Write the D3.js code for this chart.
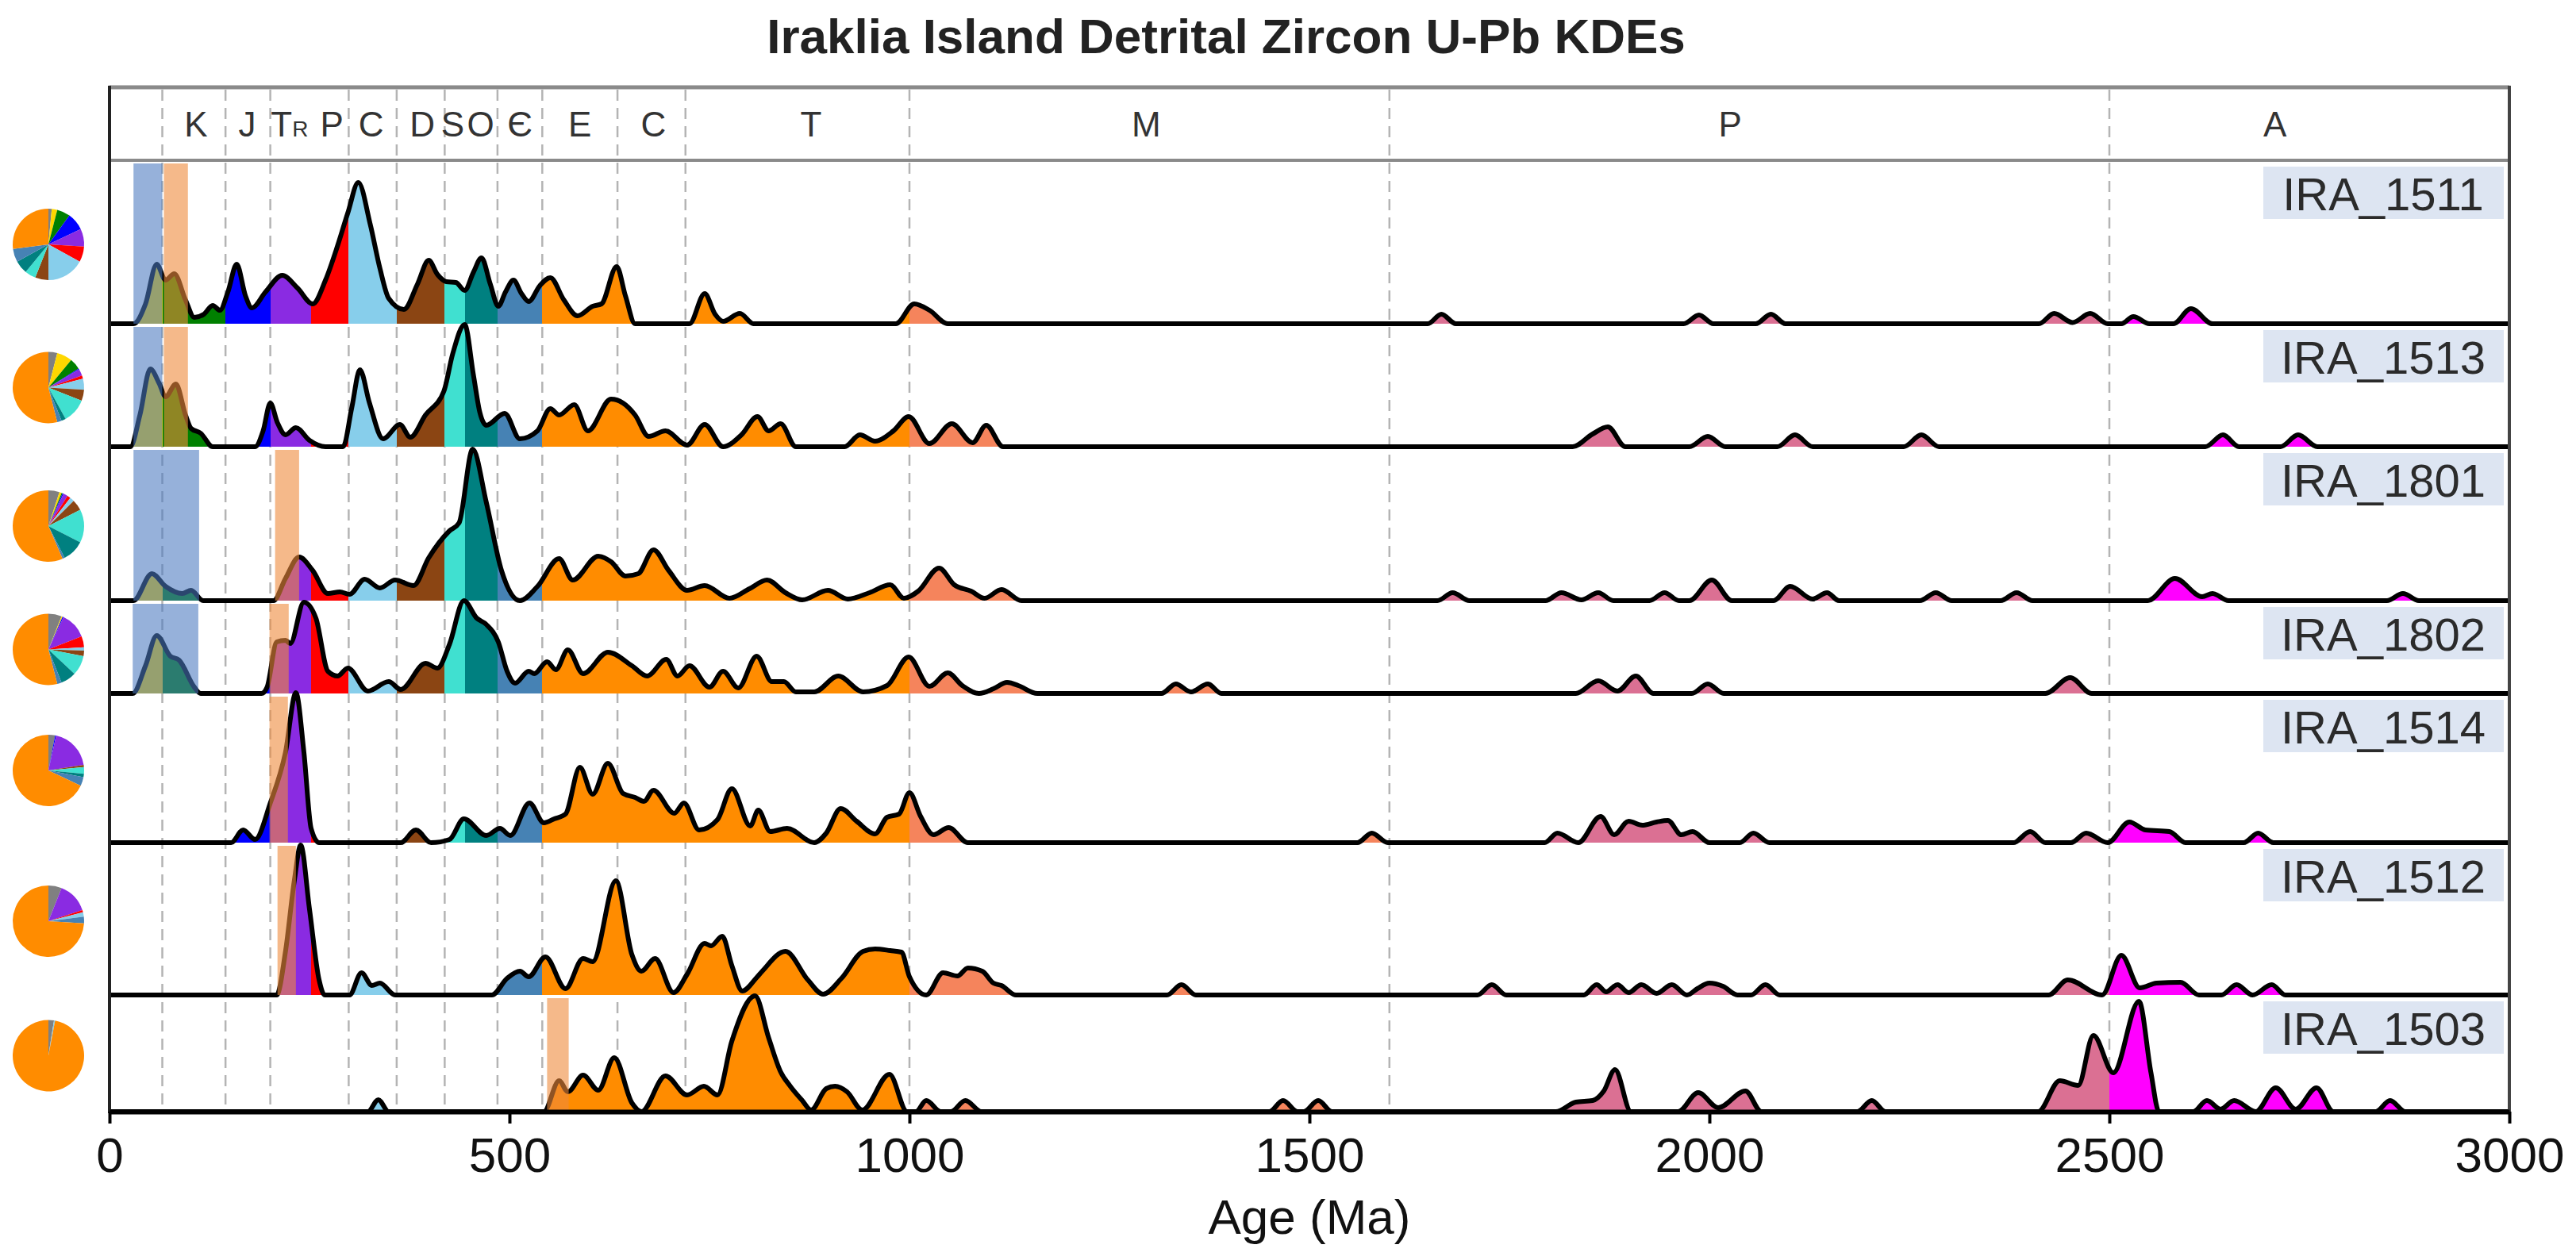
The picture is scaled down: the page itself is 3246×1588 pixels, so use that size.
<!DOCTYPE html>
<html><head><meta charset="utf-8">
<script src="https://cdn.jsdelivr.net/npm/d3@7"></script>
<style>
body{margin:0;background:#fff}
svg{display:block}
text{font-family:"Liberation Sans",Arial,Helvetica,sans-serif}
</style>
</head><body>
<svg id="chart" width="3246" height="1588"></svg>
<script>
// ---------------- DATA ----------------
const samples = ["IRA_1511","IRA_1513","IRA_1801","IRA_1802","IRA_1514","IRA_1512","IRA_1503"];

// KDE curves: [age (Ma), relative density]
const kde_IRA_1511 = [[0,0],[30,0],[45,25],[59,75],[70,55],[81,63],[95,30],[106,8],[118,12],[129,23],[138,17],[148,40],[159,75],[170,35],[178,20],[195,40],[216,61],[235,45],[254,25],[270,55],[285,98],[298,140],[311,178],[326,125],[338,70],[349,32],[368,18],[385,50],[399,80],[410,62],[421,53],[433,52],[444,42],[455,65],[465,83],[476,50],[486,22],[495,40],[505,55],[515,38],[524,28],[538,48],[551,58],[568,30],[585,10],[604,22],[615,25],[634,72],[645,35],[657,0],[725,0],[744,38],[757,12],[767,3],[788,13],[805,0],[983,0],[1006,25],[1025,17],[1048,0],[1648,0],[1665,12],[1683,0],[1968,0],[1987,11],[2005,0],[2058,0],[2077,12],[2095,0],[2412,0],[2431,13],[2454,1.5],[2476,13],[2498,0],[2515,0],[2530,9],[2550,0],[2580,0],[2602,19],[2629,0],[3000,0]];
const kde_IRA_1513 = [[0,0],[26,0],[38,40],[51,98],[62,80],[70,63],[83,79],[95,40],[102,23],[114,17],[129,0],[182,0],[192,20],[201,55],[210,30],[220,15],[233,24],[250,8],[270,0],[292,0],[303,50],[313,97],[325,55],[342,10],[363,28],[376,12],[395,40],[418,70],[429,117],[444,154],[455,90],[463,43],[471,27],[494,42],[513,10],[535,20],[551,48],[562,40],[581,53],[598,20],[627,60],[642,55],[657,40],[674,13],[695,20],[722,2],[744,28],[767,0],[790,15],[810,38],[824,20],[839,29],[858,0],[919,0],[938,15],[957,7],[980,20],[999,38],[1025,4],[1053,29],[1079,5],[1096,27],[1117,0],[1829,0],[1854,16],[1873,25],[1895,0],[1975,0],[1998,13],[2020,0],[2085,0],[2107,15],[2129,0],[2243,0],[2265,15],[2287,0],[2620,0],[2642,15],[2662,0],[2714,0],[2736,15],[2760,0],[3000,0]];
const kde_IRA_1801 = [[0,0],[30,0],[53,34],[70,18],[91,9],[102,13],[117,0],[205,0],[220,28],[237,55],[254,38],[273,9],[288,11],[300,8],[319,27],[338,16],[357,26],[380,19],[399,54],[425,88],[437,98],[454,191],[471,124],[490,38],[513,0],[535,18],[562,53],[579,26],[611,56],[627,49],[645,31],[661,34],[680,64],[699,38],[722,13],[744,19],[775,3],[800,15],[822,26],[845,10],[866,1],[898,13],[923,2],[950,10],[976,20],[993,3],[1011,12],[1037,41],[1056,20],[1077,12],[1094,3],[1115,14],[1140,0],[1660,0],[1679,10],[1700,0],[1795,0],[1815,10],[1840,1],[1861,10],[1880,0],[1925,0],[1944,10],[1962,0],[1975,0],[2003,26],[2028,0],[2080,0],[2101,18],[2129,2],[2147,10],[2162,0],[2263,0],[2283,10],[2303,0],[2364,0],[2384,10],[2404,0],[2548,0],[2582,28],[2616,5],[2629,9],[2649,0],[2847,0],[2867,9],[2887,0],[3000,0]];
const kde_IRA_1802 = [[0,0],[29,0],[45,35],[59,73],[76,47],[87,42],[106,8],[114,0],[190,0],[197,8],[209,65],[220,67],[226,63],[243,115],[258,95],[273,28],[285,22],[298,32],[323,3],[349,15],[364,5],[395,38],[410,32],[425,62],[443,117],[459,95],[471,87],[486,65],[497,28],[507,13],[524,28],[531,25],[547,40],[558,30],[573,55],[592,25],[623,52],[653,35],[672,22],[696,43],[710,22],[725,35],[750,8],[767,28],[786,7],[809,47],[828,15],[843,15],[858,2],[881,2],[911,22],[942,2],[972,10],[999,46],[1025,9],[1048,26],[1066,10],[1087,0],[1105,6],[1122,14],[1136,10],[1160,0],[1315,0],[1333,12],[1352,2],[1373,12],[1390,0],[1833,0],[1861,16],[1885,3],[1908,22],[1930,0],[1978,0],[1998,12],[2018,0],[2420,0],[2451,20],[2478,0],[3000,0]];
const kde_IRA_1514 = [[0,0],[152,0],[167,16],[182,4],[201,50],[220,114],[233,189],[243,114],[252,18],[262,0],[364,0],[383,16],[402,0],[425,4],[443,30],[471,9],[488,18],[501,9],[525,50],[543,25],[556,30],[570,36],[588,95],[604,61],[623,100],[642,62],[657,57],[668,52],[680,66],[706,37],[718,50],[737,16],[760,29],[778,68],[801,21],[811,41],[826,14],[847,18],[881,0],[896,12],[914,43],[934,27],[957,11],[972,32],[987,36],[1000,63],[1014,33],[1030,10],[1049,19],[1073,0],[1560,0],[1578,12],[1598,0],[1794,0],[1810,12],[1836,0],[1864,33],[1881,10],[1899,27],[1916,22],[1934,26],[1948,28],[1965,10],[1979,14],[2000,0],[2038,0],[2055,12],[2075,0],[2380,0],[2401,14],[2420,0],[2452,0],[2471,12],[2498,0],[2525,26],[2545,16],[2575,14],[2595,0],[2668,0],[2686,12],[2705,0],[3000,0]];
const kde_IRA_1512 = [[0,0],[209,0],[220,55],[231,144],[239,189],[250,108],[262,19],[269,0],[300,0],[315,28],[328,12],[338,15],[357,0],[478,0],[497,21],[513,30],[524,23],[545,48],[570,8],[592,46],[604,42],[633,144],[653,51],[665,30],[682,46],[705,3],[722,26],[744,65],[752,62],[766,74],[778,37],[791,5],[809,22],[816,30],[845,55],[873,19],[892,1],[915,21],[942,55],[957,58],[976,56],[990,54],[1000,23],[1021,0],[1042,28],[1060,24],[1073,34],[1091,30],[1105,15],[1115,12],[1133,0],[1322,0],[1340,13],[1358,0],[1710,0],[1728,13],[1746,0],[1843,0],[1859,13],[1871,4],[1885,13],[1899,3],[1915,13],[1934,2],[1953,13],[1972,0],[1985,8],[2000,15],[2017,11],[2035,0],[2052,0],[2070,13],[2088,0],[2424,0],[2448,19],[2491,0],[2515,50],[2538,9],[2559,15],[2589,16],[2612,0],[2640,0],[2659,13],[2679,0],[2703,13],[2720,0],[3000,0]];
const kde_IRA_1503 = [[0,0],[323,0],[336,15],[349,0],[543,0],[562,39],[573,25],[592,46],[611,27],[631,68],[653,11],[665,0],[695,45],[722,21],[743,32],[760,21],[778,89],[807,146],[824,93],[839,50],[851,32],[866,14],[877,2],[896,29],[907,32],[922,25],[941,2],[975,47],[997,0],[1008,0],[1021,14],[1039,0],[1052,0],[1070,14],[1090,0],[1450,0],[1467,14],[1485,0],[1493,0],[1511,14],[1528,0],[1808,0],[1833,12],[1854,14],[1868,26],[1882,53],[1902,0],[1961,0],[1986,24],[2011,5],[2045,26],[2065,0],[2185,0],[2203,14],[2220,0],[2411,0],[2438,39],[2461,33],[2480,96],[2505,49],[2537,139],[2552,49],[2562,0],[2605,0],[2622,14],[2639,3],[2656,14],[2683,0],[2708,30],[2733,3],[2759,30],[2780,0],[2833,0],[2851,14],[2870,0],[3000,0]];
const kdeCurves = [kde_IRA_1511,kde_IRA_1513,kde_IRA_1801,kde_IRA_1802,kde_IRA_1514,kde_IRA_1512,kde_IRA_1503];

// Geological time scale (Ma) and fill colours
const periodBounds = [0,66,145,201,252,299,359,419,444,485,541,1000,1600,2500,3000];
const periodColors = ["#ffd700","#008000","#0000ff","#8a2be2","#ff0000","#87ceeb","#8b4513","#40e0d0","#008080","#4682b4","#ff8c00","#f5845c","#db7093","#ff00ff"];
const gridAges = [66,145,201,299,359,419,485,541,635,720,1000,1600,2500];
const headerLabels = ["K","J","TR","P","C","D","S","O","\u0404","E","C","T","M","P","A"];
const headerAges = [108,172,225,278,327,391,429,464,513,588,680,877,1296,2026,2707];
const xTicks = [0,500,1000,1500,2000,2500,3000];

// Highlight bands (Ma) per sample
const blueBands = [[30,66],[30,66],[30,112],[29,111],null,null,null];
const orangeBands = [[68,98],[68,98],[207,237],[200,224],[200,223],[210,233],[547,574]];

// Pie proportions (%), clockwise from 12 o'clock
const pieCategories = [">1000 Ma","Cz","K","J","Tr","P","C","D","S","O","\u0404","Neoprot."];
const pieColors = ["#808080","#ffd700","#008000","#0000ff","#8a2be2","#ff0000","#87ceeb","#8b4513","#40e0d0","#008080","#4682b4","#ff8c00"];
const pie_IRA_1511 = [1.5,2.5,6,8,8,7,17,6,5,6,6,27];
const pie_IRA_1513 = [4,7,5,0.5,3,1.5,5,5,11,2,2,54];
const pie_IRA_1801 = [5,1,0.5,0.5,2,1.5,2,5,15,10,1,56.5];
const pie_IRA_1802 = [6,0.5,0,0.5,12,5,1.5,2.5,9,7,2,54];
const pie_IRA_1514 = [3,0,0,0.5,19,0,0,1,3,1.5,4,68];
const pie_IRA_1512 = [6,0,0,0,14,1,2,0,0,0,3,74];
const pie_IRA_1503 = [2.5,0,0,0,0,0,0.5,0,0,0,0,97];
const pieValues = [pie_IRA_1511,pie_IRA_1513,pie_IRA_1801,pie_IRA_1802,pie_IRA_1514,pie_IRA_1512,pie_IRA_1503];

// ---------------- LAYOUT ----------------
const W = 3246, H = 1588;
const plotLeft = 138, plotRight = 3162;
const headerTop = 110, headerBottom = 202;
const rowTops = [202,408,563,757,874,1062,1254];
const rowBases = [408,563,757,874,1062,1254,1401];

const svg = d3.select("#chart");
svg.append("rect").attr("width",W).attr("height",H).attr("fill","#fff");

const x = d3.scaleLinear().domain([0,3000]).range([plotLeft,plotRight]);

// gradient for period colouring
const defs = svg.append("defs");
const grad = defs.append("linearGradient").attr("id","periodGrad")
  .attr("gradientUnits","userSpaceOnUse")
  .attr("x1",x(0)).attr("x2",x(3000)).attr("y1",0).attr("y2",0);
periodColors.forEach((c,i)=>{
  grad.append("stop").attr("offset",(periodBounds[i]/3000)).attr("stop-color",c);
  grad.append("stop").attr("offset",(periodBounds[i+1]/3000)).attr("stop-color",c);
});

// Title
svg.append("text").attr("x",1545).attr("y",67).attr("text-anchor","middle")
  .attr("font-size",62).attr("font-weight","bold").attr("fill","#222")
  .text("Iraklia Island Detrital Zircon U-Pb KDEs");

// dashed grid lines
svg.append("g").selectAll("line").data(gridAges).join("line")
  .attr("x1",d=>x(d)).attr("x2",d=>x(d))
  .attr("y1",headerTop+3).attr("y2",rowBases[6]-3)
  .attr("stroke","#b4b4b4").attr("stroke-width",2.5).attr("stroke-dasharray","14,9");

// header labels
const hl = svg.append("g");
headerLabels.forEach((lab,i)=>{
  const t = hl.append("text").attr("x",x(headerAges[i])).attr("y",172)
    .attr("text-anchor","middle").attr("font-size",44).attr("fill","#333");
  if(lab==="TR"){
    t.append("tspan").text("T");
    t.append("tspan").attr("font-size",28).text("R");
  } else t.text(lab);
});

// header lines
svg.append("line").attr("x1",plotLeft).attr("x2",plotRight).attr("y1",headerTop).attr("y2",headerTop)
  .attr("stroke","#8a8a8a").attr("stroke-width",5);
svg.append("line").attr("x1",plotLeft).attr("x2",plotRight).attr("y1",headerBottom).attr("y2",headerBottom)
  .attr("stroke","#8a8a8a").attr("stroke-width",4);

// rows
const pieGen = d3.pie().sort(null).value(d=>d);
const arc = d3.arc().innerRadius(0).outerRadius(45);

samples.forEach((name,i)=>{
  const top = rowTops[i], base = rowBases[i];
  const y = d3.scaleLinear().domain([0,200]).range([base, base-200]);
  const g = svg.append("g");
  const area = d3.area().x(d=>x(d[0])).y0(base).y1(d=>y(d[1])).curve(d3.curveMonotoneX);
  const line = d3.line().x(d=>x(d[0])).y(d=>y(d[1])).curve(d3.curveMonotoneX);
  g.append("path").datum(kdeCurves[i]).attr("d",area).attr("fill","url(#periodGrad)");
  g.append("path").datum(kdeCurves[i]).attr("d",line).attr("fill","none")
    .attr("stroke","#000").attr("stroke-width",6).attr("stroke-linejoin","round");
  // bands
  if(blueBands[i]){
    g.append("rect").attr("x",x(blueBands[i][0])).attr("width",x(blueBands[i][1])-x(blueBands[i][0]))
      .attr("y",top+4).attr("height",base-top-4).attr("fill","#4a78c0").attr("fill-opacity",0.58);
  }
  if(orangeBands[i]){
    g.append("rect").attr("x",x(orangeBands[i][0])).attr("width",x(orangeBands[i][1])-x(orangeBands[i][0]))
      .attr("y",top+4).attr("height",base-top-4).attr("fill","#ee8a3c").attr("fill-opacity",0.6);
  }
  // label
  g.append("rect").attr("x",2852).attr("y",top+8).attr("width",303).attr("height",66).attr("fill","#dde5f2");
  g.append("text").attr("x",3003).attr("y",top+8+55).attr("text-anchor","middle")
    .attr("font-size",58).attr("fill","#2b2b2b").text(name);
  // pie
  const pg = svg.append("g").attr("transform",`translate(61,${(top+base)/2+3})`);
  pg.selectAll("path").data(pieGen(pieValues[i])).join("path")
    .attr("d",arc).attr("fill",(d,j)=>pieColors[j]);
});

// frame borders
svg.append("line").attr("x1",plotLeft).attr("x2",plotLeft).attr("y1",headerTop-2).attr("y2",rowBases[6]+2)
  .attr("stroke","#222").attr("stroke-width",4);
svg.append("line").attr("x1",plotRight).attr("x2",plotRight).attr("y1",headerTop-2).attr("y2",rowBases[6])
  .attr("stroke","#444").attr("stroke-width",4);

// x axis
const ax = svg.append("g").attr("transform",`translate(0,${rowBases[6]})`)
  .call(d3.axisBottom(x).tickValues(xTicks).tickFormat(d3.format("d")).tickSize(15).tickSizeOuter(0).tickPadding(17));
ax.select(".domain").attr("stroke","#000").attr("stroke-width",6);
ax.selectAll(".tick line").attr("stroke","#000").attr("stroke-width",4);
ax.selectAll(".tick text").attr("font-size",62).attr("fill","#111")
  .attr("font-family","'Liberation Sans',Arial,sans-serif");

svg.append("text").attr("x",(plotLeft+plotRight)/2).attr("y",1555).attr("text-anchor","middle")
  .attr("font-size",62).attr("fill","#111").text("Age (Ma)");
</script>
</body></html>
